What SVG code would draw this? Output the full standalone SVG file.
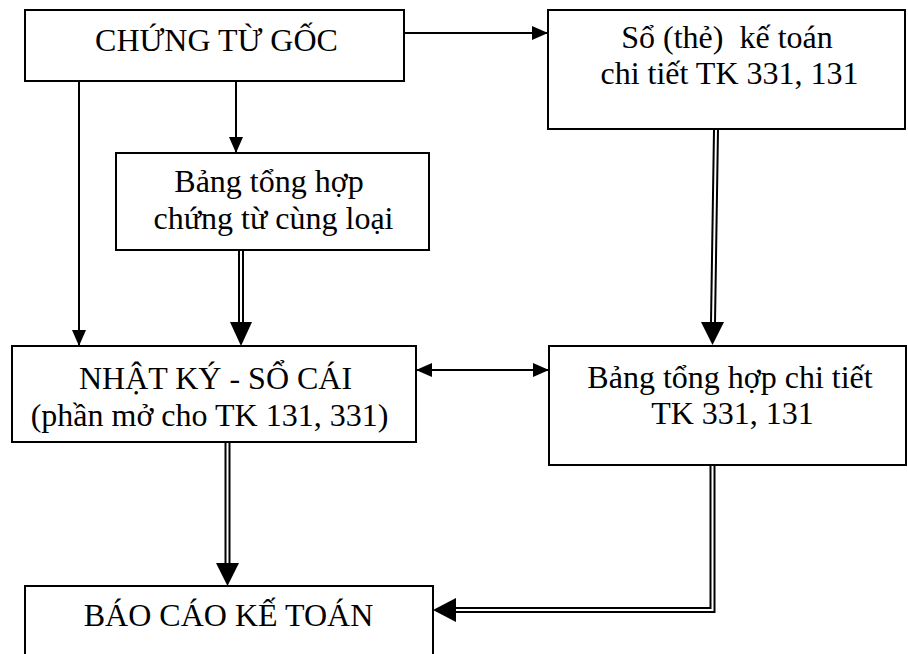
<svg xmlns="http://www.w3.org/2000/svg" width="908" height="654" viewBox="0 0 908 654">
  <style>
    .box { fill: #fff; stroke: #000; stroke-width: 2; }
    .lbl { font-family: 'Liberation Serif', 'DejaVu Serif', serif; font-size: 32px; fill: #000; text-anchor: middle; }
    .single { fill: none; stroke: #000; stroke-width: 2; }
    .dbl-outer { fill: none; stroke: #000; stroke-width: 6; }
    .dbl-inner { fill: none; stroke: #fff; stroke-width: 2; }
    .head { fill: #000; stroke: none; }
  </style>
  <defs>
    <marker id="arrow" markerUnits="userSpaceOnUse" markerWidth="16" markerHeight="14" refX="16" refY="7" orient="auto-start-reverse">
      <path d="M0,0 L16,7 L0,14 z" fill="#000"/>
    </marker>
  </defs>
  <rect width="908" height="654" fill="#fff"/>

  <!-- connectors -->
  <g id="connectors">
    <line class="single" x1="404" y1="33" x2="548" y2="33" marker-end="url(#arrow)"/>
    <line class="single" x1="79" y1="81" x2="79" y2="346" marker-end="url(#arrow)"/>
    <line class="single" x1="236" y1="81" x2="236" y2="153" marker-end="url(#arrow)"/>
    <line class="single" x1="416" y1="370" x2="549" y2="370" marker-start="url(#arrow)" marker-end="url(#arrow)"/>

    <!-- double-line flows -->
    <path class="dbl-outer" d="M241,251 V323"/>
    <path class="dbl-inner" d="M241,251 V323"/>
    <polygon class="head" points="230,322 252,322 241,346"/>

    <path class="dbl-outer" d="M716,130 L713,323"/>
    <path class="dbl-inner" d="M716,130 L713,323"/>
    <polygon class="head" points="701,322 724,322 712.5,345"/>

    <path class="dbl-outer" d="M227.5,443 V564"/>
    <path class="dbl-inner" d="M227.5,443 V564"/>
    <polygon class="head" points="216,563 239,563 227.5,586"/>

    <path class="dbl-outer" d="M712.5,466 V610 H455"/>
    <path class="dbl-inner" d="M712.5,466 V610 H455"/>
    <polygon class="head" points="456,598 456,622 433,610"/>
  </g>

  <g id="chung-tu-goc">
    <rect class="box" x="25" y="10" width="379" height="71"/>
    <text class="lbl" x="216.5" y="51">CHỨNG TỪ GỐC</text>
  </g>

  <g id="so-the-chi-tiet">
    <rect class="box" x="548" y="10" width="357" height="119"/>
    <text class="lbl" x="727" y="48" xml:space="preserve">Sổ (thẻ)  kế toán</text>
    <text class="lbl" x="729.5" y="84">chi tiết TK 331, 131</text>
  </g>

  <g id="bang-tong-hop-chung-tu">
    <rect class="box" x="116" y="153" width="313" height="97"/>
    <text class="lbl" x="269" y="192">Bảng tổng hợp</text>
    <text class="lbl" x="273.5" y="229">chứng từ cùng loại</text>
  </g>

  <g id="nhat-ky-so-cai">
    <rect class="box" x="12" y="346" width="404" height="96"/>
    <text class="lbl" x="215.5" y="389">NHẬT KÝ - SỔ CÁI</text>
    <text class="lbl" x="209.5" y="426">(phần mở cho TK 131, 331)</text>
  </g>

  <g id="bang-tong-hop-chi-tiet">
    <rect class="box" x="549" y="346" width="357" height="119"/>
    <text class="lbl" x="730" y="388">Bảng tổng hợp chi tiết</text>
    <text class="lbl" x="732.5" y="424">TK 331, 131</text>
  </g>

  <g id="bao-cao-ke-toan">
    <rect class="box" x="25" y="586" width="408" height="90"/>
    <text class="lbl" x="228.5" y="626">BÁO CÁO KẾ TOÁN</text>
  </g>
</svg>
